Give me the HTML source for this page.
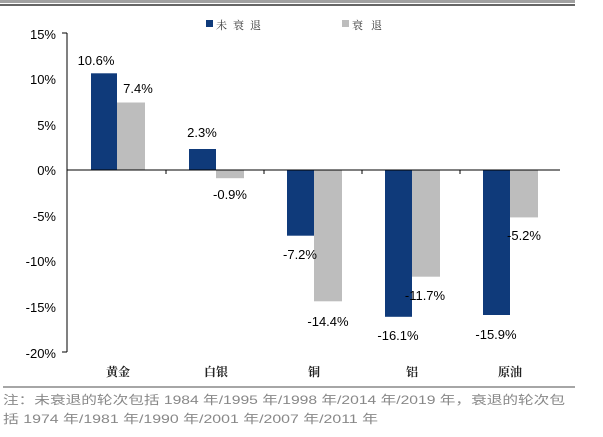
<!DOCTYPE html>
<html><head><meta charset="utf-8"><style>
body{margin:0;background:#fff;width:603px;height:432px;overflow:hidden;font-family:"Liberation Sans","Noto Sans CJK SC",sans-serif;}
</style></head><body>
<svg width="603" height="432" viewBox="0 0 603 432" xmlns="http://www.w3.org/2000/svg" font-family="Liberation Sans, Noto Sans CJK SC, sans-serif">
<rect x="0" y="0" width="575" height="3" fill="#444" opacity="0.5"/>
<line x1="0" y1="5" x2="575" y2="5" stroke="#333" stroke-width="1.5"/>
<rect x="206" y="20" width="7" height="7" fill="#0f3a7a"/>
<text x="216" y="29" font-size="11" fill="#333" font-family="Liberation Serif, Noto Serif CJK SC, serif" textLength="45">未衰退</text>
<rect x="342" y="20" width="7" height="7" fill="#bdbdbd"/>
<text x="352" y="29" font-size="11" fill="#333" font-family="Liberation Serif, Noto Serif CJK SC, serif" textLength="30">衰退</text>
<g font-size="13" fill="#000" text-anchor="end">
<text x="56" y="39">15%</text>
<text x="56" y="84">10%</text>
<text x="56" y="130">5%</text>
<text x="56" y="175">0%</text>
<text x="56" y="221">-5%</text>
<text x="56" y="266">-10%</text>
<text x="56" y="312">-15%</text>
<text x="56" y="358">-20%</text>
</g>
<g stroke="#000" stroke-width="1">
<line x1="67" y1="33" x2="67" y2="352"/>
<line x1="62" y1="33" x2="67" y2="33"/>
<line x1="62" y1="352" x2="67" y2="352"/>
</g>
<g fill="#0f3a7a">
<rect x="91" y="73.3" width="26" height="96.7"/>
<rect x="189" y="149" width="27" height="21"/>
<rect x="287" y="170" width="27" height="65.7"/>
<rect x="385" y="170" width="27" height="146.8"/>
<rect x="483" y="170" width="27" height="145"/>
</g>
<g fill="#bdbdbd">
<rect x="117" y="102.5" width="28" height="67.5"/>
<rect x="216" y="170" width="28" height="8.2"/>
<rect x="314" y="170" width="28" height="131.3"/>
<rect x="412" y="170" width="28" height="106.7"/>
<rect x="510" y="170" width="28" height="47.4"/>
</g>
<g stroke="#000" stroke-width="1">
<line x1="67" y1="170" x2="560" y2="170"/>
<line x1="166" y1="170" x2="166" y2="174"/>
<line x1="264" y1="170" x2="264" y2="174"/>
<line x1="362" y1="170" x2="362" y2="174"/>
<line x1="460" y1="170" x2="460" y2="174"/>
</g>
<g font-size="13" fill="#000" text-anchor="middle">
<text x="96" y="65">10.6%</text>
<text x="138" y="93">7.4%</text>
<text x="202" y="137">2.3%</text>
<text x="230" y="199">-0.9%</text>
<text x="300" y="259">-7.2%</text>
<text x="328" y="326">-14.4%</text>
<text x="398" y="340">-16.1%</text>
<text x="425" y="300">-11.7%</text>
<text x="496" y="339">-15.9%</text>
<text x="524" y="240">-5.2%</text>
</g>
<g font-size="12" fill="#222" text-anchor="middle" font-family="Liberation Serif, Noto Serif CJK SC, serif" font-weight="bold">
<text x="118" y="376">黄金</text>
<text x="216" y="376">白银</text>
<text x="314" y="376">铜</text>
<text x="412" y="376">铝</text>
<text x="510" y="376">原油</text>
</g>
<line x1="3" y1="387" x2="575" y2="387" stroke="#888" stroke-width="1.5"/>
<g font-size="12" fill="#888">
<text x="3" y="404" textLength="562" lengthAdjust="spacingAndGlyphs">注：未衰退的轮次包括 1984 年/1995 年/1998 年/2014 年/2019 年，衰退的轮次包</text>
<text x="3" y="423" textLength="375" lengthAdjust="spacingAndGlyphs">括 1974 年/1981 年/1990 年/2001 年/2007 年/2011 年</text>
</g>
</svg>
</body></html>
